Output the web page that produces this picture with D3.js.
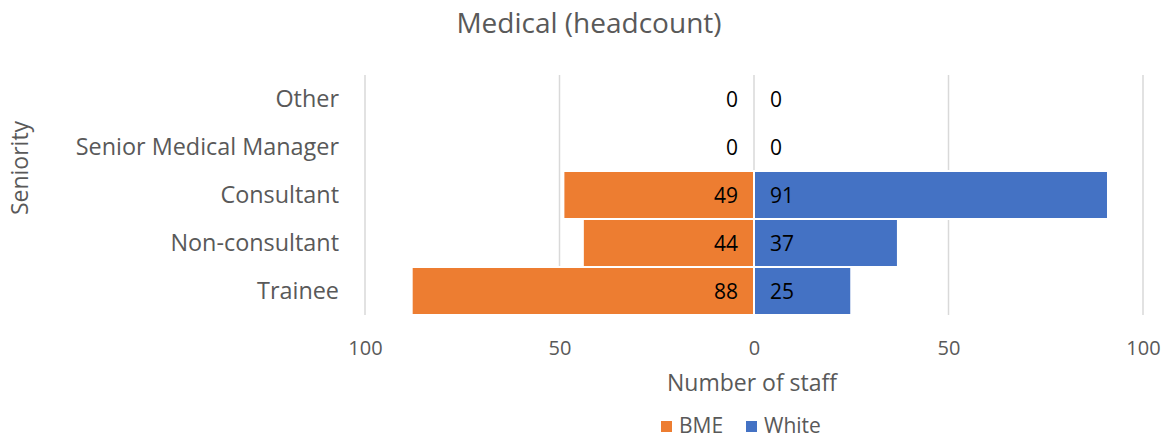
<!doctype html>
<html lang="en">
  <head>
    <meta charset="utf-8">
    <title>Medical (headcount)</title>
    <script src="https://d3js.org/d3.v7.min.js"></script>
    <style>
    body { margin: 0; background: #fff; }
    text { font-family: "Open Sans", "Liberation Sans", sans-serif; fill: #595959; }
    </style>
  </head>

  <body>
    <svg width="1165" height="440"></svg>

    <script>
      // data
      var categories = ['Other', 'Senior Medical Manager', 'Consultant', 'Non-consultant', 'Trainee'];
      var bme = [0, 0, 49, 44, 88];
      var white = [0, 0, 91, 37, 25];
      var tickValues = [-100, -50, 0, 50, 100];
      var seriesNames = ['BME', 'White'];
      var seriesColors = ['#ED7D31', '#4472C4'];

      var svg = d3.select('svg');

      var x = d3.scaleLinear().domain([-100, 100]).range([365, 1143]);
      var y = d3.scaleBand().domain(categories).range([75, 315]).padding(0);

      // title
      svg.append('text')
        .attr('x', 589).attr('y', 33)
        .attr('text-anchor', 'middle')
        .style('font-size', '28px')
        .text('Medical (headcount)');

      // gridlines
      svg.append('g').selectAll('line')
        .data(tickValues)
        .enter().append('line')
          .attr('x1', x).attr('x2', x)
          .attr('y1', 75).attr('y2', 315)
          .attr('stroke', '#d9d9d9')
          .attr('stroke-width', 1.5);

      // x axis
      var xAxis = d3.axisBottom(x).tickValues(tickValues)
        .tickFormat(function(d){ return Math.abs(d); })
        .tickSize(0).tickPadding(0);
      var gx = svg.append('g')
        .attr('transform', 'translate(0, 355)')
        .call(xAxis);
      gx.select('.domain').remove();
      gx.selectAll('text')
        .attr('dy', null)
        .attr('y', 0)
        .style('font-size', '20px')
        .attr('fill', '#595959');

      // y axis
      var yAxis = d3.axisLeft(y).tickSize(0).tickPadding(0);
      var gy = svg.append('g')
        .attr('transform', 'translate(339, 0)')
        .call(yAxis);
      gy.select('.domain').remove();
      gy.selectAll('text')
        .style('font-size', '23.4px')
        .attr('fill', '#595959');

      // bars
      var rows = categories.map(function(c, i){ return {cat: c, bme: bme[i], white: white[i]}; });

      svg.append('g').selectAll('rect')
        .data(rows)
        .enter().append('rect')
          .attr('x', function(d){ return x(-d.bme); })
          .attr('y', function(d){ return y(d.cat); })
          .attr('width', function(d){ return x(0) - x(-d.bme); })
          .attr('height', y.bandwidth())
          .attr('fill', seriesColors[0])
          .attr('stroke', '#fff')
          .attr('stroke-width', 2);

      svg.append('g').selectAll('rect')
        .data(rows)
        .enter().append('rect')
          .attr('x', x(0))
          .attr('y', function(d){ return y(d.cat); })
          .attr('width', function(d){ return x(d.white) - x(0); })
          .attr('height', y.bandwidth())
          .attr('fill', seriesColors[1])
          .attr('stroke', '#fff')
          .attr('stroke-width', 2);

      // data labels
      svg.append('g').selectAll('text')
        .data(rows)
        .enter().append('text')
          .attr('x', x(0) - 16)
          .attr('y', function(d){ return y(d.cat) + y.bandwidth() / 2; })
          .attr('dy', '0.36em')
          .attr('text-anchor', 'end')
          .style('font-size', '21px')
          .style('fill', '#000')
          .text(function(d){ return d.bme; });

      svg.append('g').selectAll('text')
        .data(rows)
        .enter().append('text')
          .attr('x', x(0) + 16)
          .attr('y', function(d){ return y(d.cat) + y.bandwidth() / 2; })
          .attr('dy', '0.36em')
          .style('font-size', '21px')
          .style('fill', '#000')
          .text(function(d){ return d.white; });

      // axis titles
      svg.append('text')
        .attr('x', x(0) - 2).attr('y', 391)
        .attr('text-anchor', 'middle')
        .style('font-size', '23px')
        .text('Number of staff');

      svg.append('text')
        .attr('transform', 'translate(28, 168) rotate(-90)')
        .attr('text-anchor', 'middle')
        .style('font-size', '23px')
        .text('Seniority');

      // legend
      var legend = svg.append('g').selectAll('g')
        .data(seriesNames)
        .enter().append('g')
          .attr('transform', function(d, i){ return 'translate(' + (661 + i * 85) + ', 421)'; });
      legend.append('rect')
        .attr('width', 11).attr('height', 11)
        .attr('fill', function(d, i){ return seriesColors[i]; });
      legend.append('text')
        .attr('x', 18).attr('y', 12)
        .style('font-size', '21px')
        .text(function(d){ return d; });
    </script>
  </body>
</html>
